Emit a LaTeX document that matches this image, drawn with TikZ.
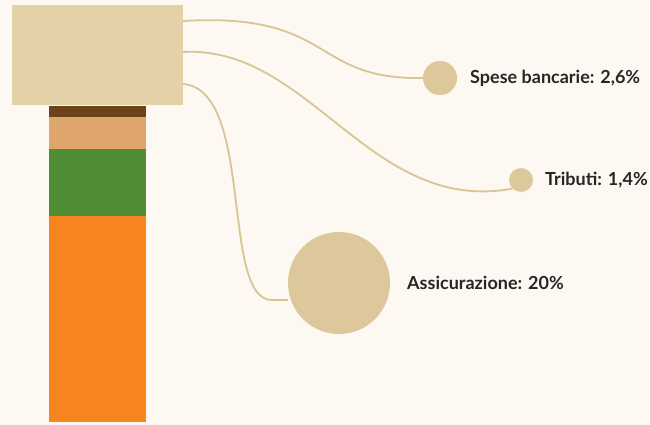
\documentclass[tikz,border=0pt]{standalone}
\usepackage{fontspec}
\setmainfont{Lato}
\usetikzlibrary{calc}
\definecolor{bg}{HTML}{FDF8F2}
\definecolor{boxc}{HTML}{E3D1A8}
\definecolor{circc}{HTML}{DCC89A}
\definecolor{linec}{HTML}{D8C593}
\definecolor{brownc}{HTML}{6B4219}
\definecolor{tanc}{HTML}{DEA56C}
\definecolor{greenc}{HTML}{4F8E34}
\definecolor{orangec}{HTML}{F6841F}
\definecolor{txt}{HTML}{262626}
\begin{document}
\begin{tikzpicture}[x=1pt,y=-1pt,
  seg/.style={draw=none,inner sep=0pt,anchor=north west,minimum width=97pt},
  bubble/.style={circle,fill=circc,draw=none,inner sep=0pt},
  conn/.style={draw=linec,line width=1.8pt},
  lbl/.style={anchor=west,font=\fontsize{18}{20}\bfseries,text=txt,inner sep=0pt}]
\fill[bg] (0,0) rectangle (650,425);
\useasboundingbox (0,0) rectangle (650,425);
\node[seg,fill=brownc,minimum height=11pt] (s1) at (49,106) {};
\node[seg,fill=tanc,minimum height=32pt] (s2) at (49,117) {};
\node[seg,fill=greenc,minimum height=67pt] (s3) at (49,149) {};
\node[seg,fill=orangec,minimum height=206pt] (s4) at (49,216) {};
\node[draw=none,fill=boxc,inner sep=0pt,anchor=north west,minimum width=171pt,minimum height=100pt] (box) at (12,5) {};
\node[bubble,minimum size=34pt] (spese) at (440,78) {};
\node[bubble,minimum size=24pt] (trib) at (521,180) {};
\node[bubble,minimum size=102pt] (assic) at (339,283) {};
\node[lbl] (t1) at (470,78) {Spese bancarie: 2,6\%};
\node[lbl] (t2) at (545,180) {Tributi: 1,4\%};
\node[lbl] (t3) at (407,283) {Assicurazione: 20\%};
\coordinate (o1) at (183,21);
\coordinate (o2) at (183,52);
\coordinate (o3) at (183,84);
\draw[conn] (o1) .. controls (335,12) and (310,80) .. (spese.west);
\draw[conn] (o2) .. controls (310,45) and (370,215) .. (trib.south west);
\draw[conn] (o3) .. controls (255,90) and (220,300) .. (272,300) -- (assic.west|-0,300);
\end{tikzpicture}
\end{document}
